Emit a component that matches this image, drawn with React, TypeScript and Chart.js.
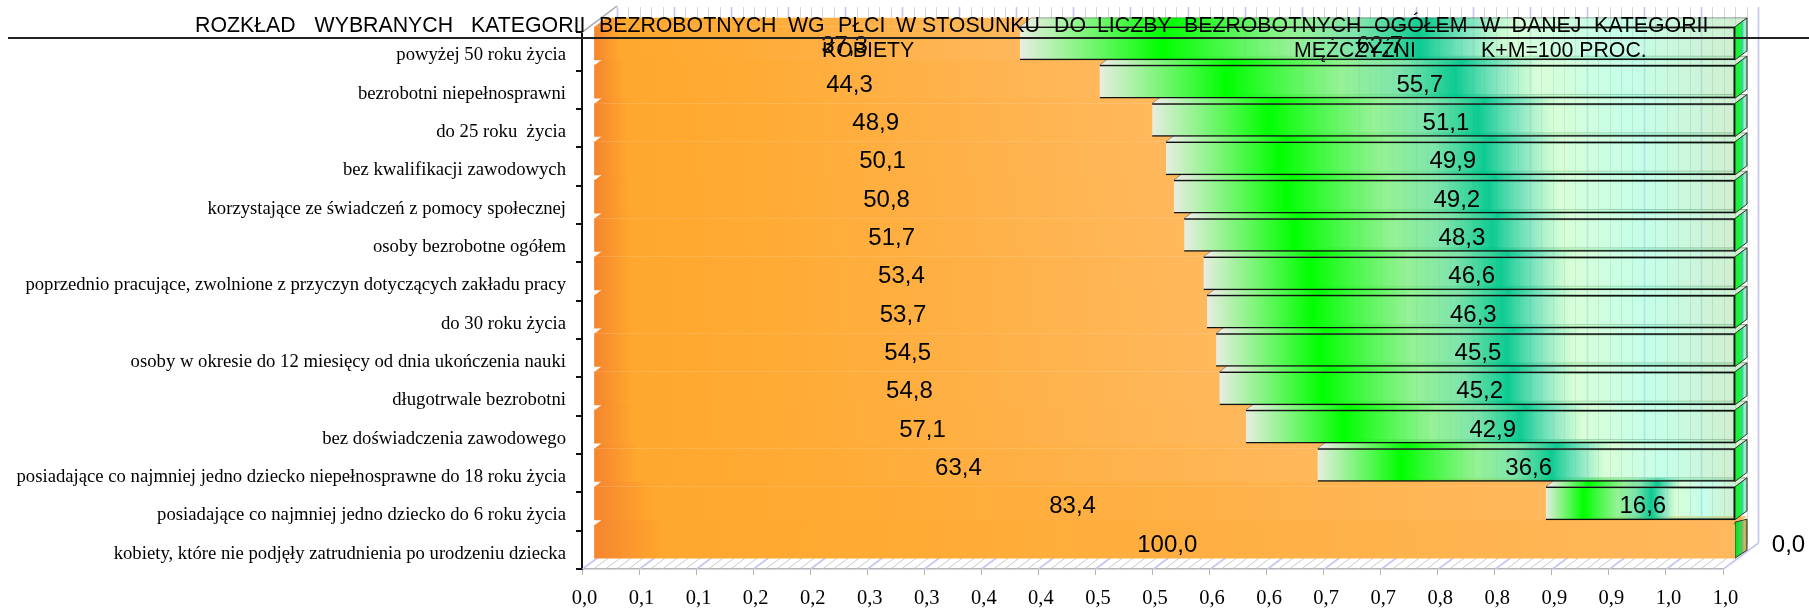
import React, { useEffect, useRef } from "react";
import { Chart, registerables } from "chart.js";

Chart.register(...registerables);

const categories = [
  "powyżej 50 roku życia",
  "bezrobotni niepełnosprawni",
  "do 25 roku  życia",
  "bez kwalifikacji zawodowych",
  "korzystające ze świadczeń z pomocy społecznej",
  "osoby bezrobotne ogółem",
  "poprzednio pracujące, zwolnione z przyczyn dotyczących zakładu pracy",
  "do 30 roku życia",
  "osoby w okresie do 12 miesięcy od dnia ukończenia nauki",
  "długotrwale bezrobotni",
  "bez doświadczenia zawodowego",
  "posiadające co najmniej jedno dziecko niepełnosprawne do 18 roku życia",
  "posiadające co najmniej jedno dziecko do 6 roku życia",
  "kobiety, które nie podjęły zatrudnienia po urodzeniu dziecka",
];
const women = [37.3, 44.3, 48.9, 50.1, 50.8, 51.7, 53.4, 53.7, 54.5, 54.8, 57.1, 63.4, 83.4, 100.0];
const men = [62.7, 55.7, 51.1, 49.9, 49.2, 48.3, 46.6, 46.3, 45.5, 45.2, 42.9, 36.6, 16.6, 0.0];
const xTickLabels = ["0,0", "0,1", "0,1", "0,2", "0,2", "0,3", "0,3", "0,4", "0,4", "0,5", "0,5", "0,6", "0,6", "0,7", "0,7", "0,8", "0,8", "0,9", "0,9", "1,0", "1,0"];
const titleWords = ["ROZKŁAD", "WYBRANYCH", "KATEGORII", "BEZROBOTNYCH", "WG", "PŁCI", "W", "STOSUNKU", "DO", "LICZBY", "BEZROBOTNYCH", "OGÓŁEM", "W", "DANEJ", "KATEGORII"];
const titleWordX = [195, 314.6, 471, 599, 788, 838, 896, 922, 1054, 1097, 1184, 1374, 1480, 1511.6, 1594];
const seriesNames = ["KOBIETY", "MĘŻCZYŹNI", "K+M=100 PROC."];

const DX = 12, DY = 8.2;
const DEPTH_X = 12, DEPTH_Y = 9;
const WALL_X = 35, WALL_Y = 26;
const SANS = "'Liberation Sans', Arial, sans-serif";
const SERIF = "'Liberation Serif', 'Times New Roman', serif";

const orangeStops: [number, string][] = [
  [0, "#f5852e"], [0.06, "#ffa72e"], [0.3, "#ffab35"], [1, "#ffb85c"],
];
const greenStops: [number, string][] = [
  [0, "rgba(232,237,226,1)"],
  [0.2, "rgba(0,255,0,1)"],
  [0.38, "rgba(135,240,135,0.88)"],
  [0.47, "rgba(110,225,160,0.88)"],
  [0.56, "rgba(0,200,140,0.95)"],
  [0.63, "rgba(110,225,180,0.8)"],
  [0.69, "rgba(190,255,190,0.6)"],
  [0.83, "rgba(150,255,215,0.55)"],
  [1, "rgba(170,225,170,0.55)"],
];
const sideStops: [number, string][] = [
  [0, "rgba(0,255,30,1)"], [0.45, "rgba(30,235,60,0.95)"], [0.6, "rgba(0,200,140,0.85)"],
  [0.8, "rgba(120,235,190,0.7)"], [1, "rgba(130,190,130,0.7)"],
];
const zeroSideStops: [number, string][] = [
  [0, "rgba(0,220,30,1)"], [0.35, "rgba(30,225,60,0.95)"], [0.6, "rgba(40,190,110,0.7)"],
  [0.8, "rgba(120,200,120,0.4)"], [1, "rgba(110,110,40,0.55)"],
];

function grad(ctx: CanvasRenderingContext2D, a: number, b: number, stops: [number, string][]) {
  if (!Number.isFinite(a) || !Number.isFinite(b)) return stops[0][1];
  const g = ctx.createLinearGradient(a, 0, Math.max(b, a + 1), 0);
  stops.forEach(([p, c]) => g.addColorStop(p, c));
  return g;
}

function poly(ctx: CanvasRenderingContext2D, pts: number[][]) {
  ctx.beginPath();
  pts.forEach(([x, y], i) => (i ? ctx.lineTo(x, y) : ctx.moveTo(x, y)));
  ctx.closePath();
}

const depthPlugin = {
  id: "depth",
  beforeDatasetsDraw(chart: any) {
    const { ctx, scales } = chart;
    const xs = scales.x;
    const yBottom = chart.chartArea.bottom;
    const wallTop = 7;
    ctx.save();
    // back wall and floor grid
    for (let i = 0; i <= 100; i++) {
      const px = Math.round(xs.getPixelForValue(i / 100)) + 0.5;
      const major = i % 5 === 0;
      ctx.strokeStyle = major ? "#c6c6f2" : "#d6d6d6";
      ctx.lineWidth = major ? 1.6 : 1;
      ctx.beginPath();
      ctx.moveTo(px + WALL_X, wallTop);
      ctx.lineTo(px + WALL_X, yBottom - WALL_Y);
      ctx.stroke();
      ctx.strokeStyle = major ? "#c6c6f2" : "#c9c9c9";
      ctx.beginPath();
      ctx.moveTo(px, yBottom);
      ctx.lineTo(px + WALL_X, yBottom - WALL_Y);
      ctx.stroke();
    }
    // left wall edge
    const x0 = xs.getPixelForValue(0);
    ctx.strokeStyle = "#a8a8a8";
    ctx.lineWidth = 1.5;
    ctx.beginPath();
    ctx.moveTo(x0, chart.chartArea.top);
    ctx.lineTo(x0 + WALL_X, wallTop - 1);
    ctx.stroke();

    // depth faces of the bars, lowest row first
    const mw = chart.getDatasetMeta(0).data;
    const mm = chart.getDatasetMeta(1).data;
    for (let r = categories.length - 1; r >= 0; r--) {
      const w = mw[r], m = mm[r];
      const top = w.y - w.height / 2 - DY;
      const bottom = w.y + w.height / 2 - DY;
      const xa = w.base + DX, xb = w.x + DX, xc = m.x + DX;
      ctx.fillStyle = grad(ctx, xa, xb, orangeStops);
      poly(ctx, [[xa, top], [xa + DEPTH_X, top - DEPTH_Y], [xb + DEPTH_X, top - DEPTH_Y], [xb, top]]);
      ctx.fill();
      if (men[r] > 0) {
        ctx.fillStyle = grad(ctx, xb + 6, xc + 6, greenStops);
        poly(ctx, [[xb, top], [xb + DEPTH_X, top - DEPTH_Y], [xc + DEPTH_X, top - DEPTH_Y], [xc, top]]);
        ctx.fill();
        ctx.strokeStyle = "rgba(30,30,30,0.5)";
        ctx.lineWidth = 0.8;
        ctx.stroke();
      }
      const lift = men[r] > 0 ? 0 : 3;
      const side = [[xc, top - lift], [xc + DEPTH_X, top - DEPTH_Y + lift], [xc + DEPTH_X, bottom - DEPTH_Y + lift / 3], [xc, bottom]];
      if (men[r] === 0) {
        ctx.fillStyle = "#ffb85c";
        poly(ctx, side);
        ctx.fill();
      }
      ctx.fillStyle = grad(ctx, xc, xc + DEPTH_X, men[r] > 0 ? sideStops : zeroSideStops);
      poly(ctx, side);
      ctx.fill();
      ctx.strokeStyle = "#333";
      ctx.lineWidth = 1;
      ctx.stroke();
    }
    ctx.restore();
    ctx.save();
    ctx.translate(DX, -DY);
  },
  afterDatasetsDraw(chart: any) {
    const { ctx } = chart;
    ctx.restore();
    ctx.save();
    ctx.fillStyle = "#000";
    ctx.font = `24px ${SANS}`;
    ctx.textAlign = "center";
    ctx.textBaseline = "middle";
    const fmt = (v: number) => v.toFixed(1).replace(".", ",");
    const mw = chart.getDatasetMeta(0).data;
    const mm = chart.getDatasetMeta(1).data;
    categories.forEach((_, r) => {
      const w = mw[r], m = mm[r];
      const y = w.y - DY + 3.5;
      const wx = (w.base + w.x) / 2 + DX + 2.5 + (r === 0 ? 35 : 0);
      ctx.fillText(fmt(women[r]), wx, y);
      const mx = men[r] > 0 ? (m.base + m.x) / 2 + DX + 2.5 : m.x + DX + 53.5;
      ctx.fillText(fmt(men[r]), mx, y);
    });
    ctx.restore();
  },
  afterDraw(chart: any) {
    const { ctx } = chart;
    ctx.save();
    ctx.fillStyle = "#000";
    ctx.textBaseline = "alphabetic";
    ctx.textAlign = "left";
    ctx.font = `21.3px ${SANS}`;
    titleWords.forEach((word, i) => ctx.fillText(word, titleWordX[i], 32));
    ctx.fillText(seriesNames[0], 822, 56.5);
    ctx.fillText(seriesNames[1], 1294, 56.5);
    ctx.fillText(seriesNames[2], 1481, 56.5);
    ctx.strokeStyle = "#222";
    ctx.lineWidth = 2;
    ctx.beginPath();
    ctx.moveTo(8, 38);
    ctx.lineTo(1809, 38);
    ctx.stroke();
    ctx.restore();
  },
};

export default function App() {
  const ref = useRef<HTMLCanvasElement>(null);
  useEffect(() => {
    const canvas = ref.current!;
    const chart = new Chart(canvas, {
      type: "bar",
      data: {
        labels: categories,
        datasets: [
          {
            label: seriesNames[0],
            data: women.map((v) => v / 100),
            stack: "s",
            barThickness: 33,
            borderWidth: 0,
            backgroundColor: (c: any) => {
              if (c.dataIndex === undefined) return "#ffa72e";
              const xs = c.chart.scales.x;
              const a = xs.getPixelForValue(0);
              const b = xs.getPixelForValue(women[c.dataIndex] / 100);
              return grad(c.chart.ctx, a, b, orangeStops);
            },
          },
          {
            label: seriesNames[1],
            data: men.map((v) => v / 100),
            stack: "s",
            barThickness: 33,
            borderWidth: (c: any) => (c.dataIndex !== undefined && men[c.dataIndex] > 0 ? 1.5 : 0),
            borderColor: "#111",
            backgroundColor: (c: any) => {
              if (c.dataIndex === undefined) return "#00ff00";
              const xs = c.chart.scales.x;
              const a = xs.getPixelForValue(women[c.dataIndex] / 100);
              const b = xs.getPixelForValue(1);
              return grad(c.chart.ctx, a, b, greenStops);
            },
          },
        ],
      } as any,
      options: {
        indexAxis: "y",
        responsive: false,
        animation: false,
        layout: { padding: { left: 0, right: 86, top: 32.4, bottom: 0 } },
        plugins: { legend: { display: false }, title: { display: false }, tooltip: { enabled: false } },
        scales: {
          x: {
            type: "linear",
            stacked: true,
            min: 0,
            max: 1,
            afterFit: (s: any) => { s.height = 41; },
            afterBuildTicks: (s: any) => {
              s.ticks = xTickLabels.map((_, i) => ({ value: i / 20 }));
            },
            ticks: {
              autoSkip: false,
              maxRotation: 0,
              padding: 11,
              labelOffset: 2.5,
              color: "#000",
              font: { family: SERIF, size: 20.5 },
              callback: (_: any, i: number) => xTickLabels[i],
            },
            grid: { drawOnChartArea: false, drawTicks: true, tickLength: 6, color: "#b4b4b4", lineWidth: 1 },
            border: { color: "#b4b4b4", width: 1.5 },
          },
          y: {
            type: "category",
            stacked: true,
            offset: true,
            afterFit: (s: any) => { s.width = 582; },
            ticks: {
              autoSkip: false,
              padding: 10,
              labelOffset: 3.8,
              color: "#000",
              font: { family: SERIF, size: 18.7 },
            },
            grid: { drawOnChartArea: false, offset: true, tickLength: 6, color: "#111", lineWidth: 2 },
            border: { color: "#111", width: 2 },
          },
        },
      } as any,
      plugins: [depthPlugin],
    });
    return () => chart.destroy();
  }, []);
  return (
    <div style={{ position: "absolute", left: 0, top: 0, width: 1809, height: 610, background: "#fff" }}>
      <canvas ref={ref} width={1809} height={610} style={{ display: "block" }} />
    </div>
  );
}
